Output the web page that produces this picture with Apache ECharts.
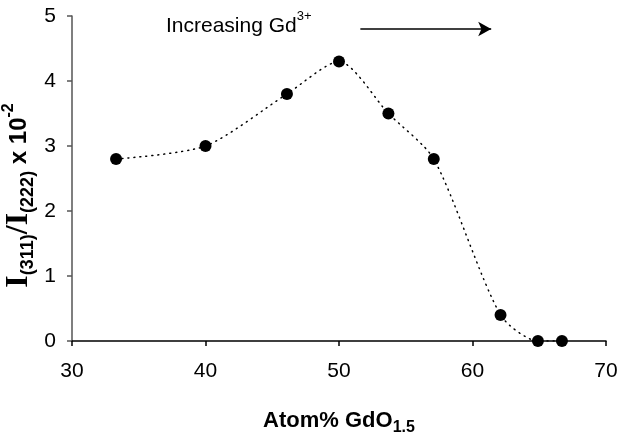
<!DOCTYPE html>
<html>
<head>
<meta charset="utf-8">
<script src="https://cdn.jsdelivr.net/npm/echarts@6/dist/echarts.min.js"></script>
<style>
  html, body { margin: 0; padding: 0; background: #fff; }
  #chart { width: 618px; height: 441px; }
</style>
</head>
<body>
<div id="chart"></div>
<script>
// atom% GdO1.5 and I(311)/I(222) x 10^-2
const gdContent = [33.3, 40, 46.1, 50, 53.7, 57.1, 62.1, 64.9, 66.7]
const intensityRatio = [2.8, 3.0, 3.8, 4.3, 3.5, 2.8, 0.4, 0, 0]
const arrowFrom = [51.6, 4.8]
const arrowTo = [61.4, 4.8]

const font = 'Liberation Sans, Arial, sans-serif'
const serif = 'Liberation Serif, Times New Roman, serif'

const points = gdContent.map((x, i) => [x, intensityRatio[i]])

const chart = echarts.init(document.getElementById('chart'))

chart.setOption({
  backgroundColor: '#fff',
  animation: false,
  grid: { left: 72, right: 12, top: 16, bottom: 100, outerBoundsMode: 'none', containLabel: false },
  xAxis: {
    type: 'value',
    min: 30,
    max: 70,
    interval: 10,
    axisLine: { onZero: false, lineStyle: { color: '#000', width: 1.5 } },
    axisTick: { show: true, length: 5, lineStyle: { color: '#000', width: 1.5 } },
    axisLabel: { color: '#000', fontSize: 21, fontFamily: font, margin: 20 },
    splitLine: { show: false },
    name: '{a|Atom% GdO}{s|1.5}',
    nameLocation: 'middle',
    nameGap: 65,
    nameTextStyle: {
      rich: {
        a: { fontFamily: font, fontWeight: 'bold', fontSize: 22, color: '#000', lineHeight: 30, verticalAlign: 'middle' },
        s: { fontFamily: font, fontWeight: 'bold', fontSize: 16, color: '#000', lineHeight: 16, verticalAlign: 'bottom' }
      }
    }
  },
  yAxis: {
    type: 'value',
    min: 0,
    max: 5,
    interval: 1,
    axisLine: { show: true, lineStyle: { color: '#555', width: 1.5 } },
    axisTick: { show: true, length: 5, lineStyle: { color: '#555', width: 1.5 } },
    axisLabel: { color: '#000', fontSize: 21, fontFamily: font, margin: 16 },
    splitLine: { show: false },
    name: '{i|I}{sub|(311)}{i|/I}{sub|(222)}{b| x 10}{sup|-2}',
    nameLocation: 'middle',
    nameRotate: 90,
    nameGap: 35,
    nameMoveOverlap: false,
    nameTextStyle: {
      padding: [0, 34, 0, 0],
      rich: {
        i: { fontFamily: serif, fontWeight: 'bold', fontSize: 32, color: '#000', lineHeight: 36, verticalAlign: 'middle' },
        sub: { fontFamily: font, fontWeight: 'bold', fontSize: 18, color: '#000', lineHeight: 18, verticalAlign: 'bottom' },
        b: { fontFamily: font, fontWeight: 'bold', fontSize: 24, color: '#000', lineHeight: 36, verticalAlign: 'middle' },
        sup: { fontFamily: font, fontWeight: 'bold', fontSize: 16, color: '#000', lineHeight: 16, verticalAlign: 'top' }
      }
    }
  },
  graphic: [
    {
      type: 'text',
      left: 166,
      top: 10,
      style: {
        text: '{t|Increasing Gd}{s|3+}',
        rich: {
          t: { fontFamily: font, fontSize: 21, fill: '#000', lineHeight: 27, verticalAlign: 'bottom' },
          s: { fontFamily: font, fontSize: 13, fill: '#000', lineHeight: 13, verticalAlign: 'top' }
        }
      }
    }
  ],
  series: [
    {
      type: 'line',
      data: points,
      smooth: 0.25,
      symbol: 'circle',
      symbolSize: 12,
      itemStyle: { color: '#000' },
      lineStyle: { color: '#000', width: 1.5, type: [1, 5], cap: 'round' },
      markLine: {
        silent: true,
        symbol: ['none', 'arrow'],
        symbolSize: [11, 13],
        label: { show: false },
        lineStyle: { color: '#000', width: 1.5, type: 'solid' },
        data: [[{ coord: arrowFrom }, { coord: arrowTo }]]
      }
    }
  ]
})
</script>
</body>
</html>
